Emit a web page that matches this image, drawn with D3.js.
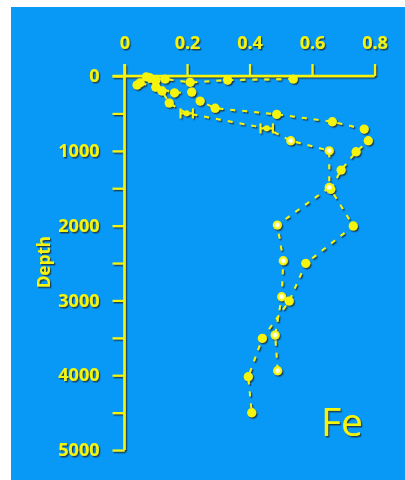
<!DOCTYPE html>
<html>
<head>
<meta charset="utf-8">
<script src="https://cdn.jsdelivr.net/npm/d3@7"></script>
<style>
  html, body { margin: 0; padding: 0; background: #ffffff; }
  svg { display: block; }
</style>
</head>
<body>
<svg id="chart" width="405" height="480"></svg>
<script>
// Dissolved Fe profiles against depth (two stations)
const xTicks = [0, 0.2, 0.4, 0.6, 0.8];
const depthTicks = [0, 500, 1000, 1500, 2000, 2500, 3000, 3500, 4000, 4500, 5000];
const depthLabels = [0, 1000, 2000, 3000, 4000, 5000];

// Station A
const stationA_fe    = [0.54, 0.33, 0.21, 0.13, 0.08, 0.05, 0.10, 0.16, 0.215, 0.242, 0.29, 0.487, 0.665, 0.767, 0.78, 0.741, 0.693, 0.66, 0.732, 0.58, 0.527, 0.441, 0.396, 0.407];
const stationA_depth = [40, 55, 85, 40, 20, 90, 150, 225, 215, 335, 430, 512, 611, 709, 865, 1012, 1257, 1515, 2005, 2504, 3008, 3507, 4020, 4501];
const stationA_err   = [0, 0, 0, 0, 0, 0, 0, 0, 0, 0.012, 0.012, 0, 0.012, 0, 0, 0, 0, 0, 0, 0.012, 0, 0, 0, 0];

// Station B
const stationB_fe    = [0.07, 0.04, 0.10, 0.12, 0.143, 0.199, 0.455, 0.532, 0.655, 0.655, 0.489, 0.508, 0.503, 0.482, 0.49];
const stationB_depth = [10, 120, 60, 200, 361, 499, 700, 865, 999, 1490, 1992, 2469, 2950, 3463, 3940];
const stationB_err   = [0, 0, 0, 0, 0, 0.02, 0.02, 0.012, 0, 0, 0, 0, 0, 0, 0];

const yellow = "#f4f40c";

const svg = d3.select("#chart");

// panel background
svg.append("rect")
  .attr("x", 11).attr("y", 7)
  .attr("width", 394).attr("height", 473)
  .attr("fill", "#0898f5");

// soft dark shadow under all yellow artwork
const defs = svg.append("defs");
const f = defs.append("filter").attr("id", "shadow")
  .attr("x", "-20%").attr("y", "-20%").attr("width", "140%").attr("height", "140%");
f.append("feDropShadow")
  .attr("dx", 1.3).attr("dy", 1.5).attr("stdDeviation", 0.6)
  .attr("flood-color", "#20303a").attr("flood-opacity", 0.85);

const glow = defs.append("radialGradient").attr("id", "glow");
glow.append("stop").attr("offset", "0%").attr("stop-color", "#ffffff");
glow.append("stop").attr("offset", "35%").attr("stop-color", "#ffffe0");
glow.append("stop").attr("offset", "70%").attr("stop-color", yellow);

const x = d3.scaleLinear().domain([0, 0.8]).range([124.5, 374.5]);
const y = d3.scaleLinear().domain([0, 5000]).range([76, 450]);

const g = svg.append("g").attr("filter", "url(#shadow)");

// axes
const topAxis = d3.axisTop(x)
  .tickValues(xTicks)
  .tickFormat(d => d === 0 ? "0" : d3.format(".1f")(d))
  .tickSizeInner(12).tickSizeOuter(0).tickPadding(15);

const leftAxis = d3.axisLeft(y)
  .tickValues(depthTicks)
  .tickFormat(d => depthLabels.includes(d) ? String(d) : "")
  .tickSizeInner(12).tickSizeOuter(0).tickPadding(13);

function styleAxis(sel) {
  sel.select(".domain").remove();
  sel.selectAll("line").attr("stroke", yellow).attr("stroke-width", 2.2);
  sel.selectAll("text")
    .attr("fill", yellow)
    .style("font-family", "'Open Sans', sans-serif")
    .style("font-weight", "bold")
    .style("font-size", "18px");
}

g.append("g").attr("transform", `translate(0,${y(0)})`).call(topAxis).call(styleAxis);
g.append("g").attr("transform", `translate(${x(0)},0)`).call(leftAxis).call(styleAxis);

// axis lines
g.append("line")
  .attr("x1", x(0) - 12).attr("x2", x(0.8))
  .attr("y1", y(0)).attr("y2", y(0))
  .attr("stroke", yellow).attr("stroke-width", 2.6);
g.append("line")
  .attr("x1", x(0)).attr("x2", x(0))
  .attr("y1", y(0) - 12).attr("y2", y(5000))
  .attr("stroke", yellow).attr("stroke-width", 2.6);

// axis title
g.append("text")
  .attr("transform", `translate(50,262) rotate(-90)`)
  .attr("text-anchor", "middle")
  .attr("fill", yellow)
  .style("font-family", "'Open Sans', sans-serif")
  .style("font-weight", "bold")
  .style("font-size", "17px")
  .text("Depth");

// element label
g.append("text")
  .attr("x", 342).attr("y", 436)
  .attr("text-anchor", "middle")
  .attr("fill", yellow)
  .style("font-family", "'Open Sans', sans-serif")
  .style("font-size", "39px")
  .text("Fe");

function drawStation(fe, depth, err, glowing) {
  const pts = fe.map((v, i) => ({ fe: v, depth: depth[i], err: err[i] }));
  const line = d3.line().x(d => x(d.fe)).y(d => y(d.depth));
  g.append("path")
    .datum(pts)
    .attr("d", line)
    .attr("fill", "none")
    .attr("stroke", yellow)
    .attr("stroke-width", 2)
    .attr("stroke-dasharray", "5,7");

  // horizontal error bars; the wider ones carry end caps
  const eb = g.append("g");
  pts.filter(d => d.err > 0).forEach(d => {
    eb.append("line")
      .attr("x1", x(d.fe - d.err)).attr("x2", x(d.fe + d.err))
      .attr("y1", y(d.depth)).attr("y2", y(d.depth))
      .attr("stroke", yellow).attr("stroke-width", 2);
    if (d.err >= 0.02) {
      [d.fe - d.err, d.fe + d.err].forEach(e => {
        eb.append("line")
          .attr("x1", x(e)).attr("x2", x(e))
          .attr("y1", y(d.depth) - 5).attr("y2", y(d.depth) + 5)
          .attr("stroke", yellow).attr("stroke-width", 2);
      });
    }
  });

  g.append("g").selectAll("circle")
    .data(pts)
    .join("circle")
    .attr("cx", d => x(d.fe))
    .attr("cy", d => y(d.depth))
    .attr("r", d => d.err >= 0.02 ? 3 : 4.6)
    .attr("fill", d => glowing && d.depth > 800 ? "url(#glow)" : yellow);
}

drawStation(stationA_fe, stationA_depth, stationA_err, false);
drawStation(stationB_fe, stationB_depth, stationB_err, true);
</script>
</body>
</html>
